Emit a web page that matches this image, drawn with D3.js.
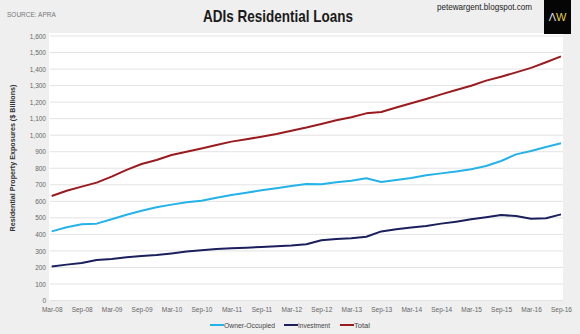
<!DOCTYPE html>
<html><head><meta charset="utf-8">
<script src="https://cdn.jsdelivr.net/npm/d3@7"></script>
<style>
html,body{margin:0;padding:0;background:#efefef;}
svg{display:block;}
text{font-family:"Liberation Sans Narrow","Arial Narrow","Liberation Sans",Arial,sans-serif;}
</style></head>
<body>
<svg id="c" width="580" height="334"></svg>
<script>
const quarters = ["Mar-08","Jun-08","Sep-08","Dec-08","Mar-09","Jun-09","Sep-09","Dec-09","Mar-10","Jun-10","Sep-10","Dec-10","Mar-11","Jun-11","Sep-11","Dec-11","Mar-12","Jun-12","Sep-12","Dec-12","Mar-13","Jun-13","Sep-13","Dec-13","Mar-14","Jun-14","Sep-14","Dec-14","Mar-15","Jun-15","Sep-15","Dec-15","Mar-16","Jun-16","Sep-16"];
const ownerOccupied = [418,443,461,465,491,519,543,564,580,594,604,622,638,652,667,679,693,705,703,715,725,739,717,729,741,757,769,781,794,814,844,884,904,929,951];
const investment = [205,217,227,245,251,261,269,275,285,297,304,312,316,319,324,328,332,340,364,372,376,386,418,431,441,451,465,477,491,503,517,511,495,497,521];
const total = [632,664,689,713,749,790,826,850,880,900,920,941,961,975,991,1007,1027,1046,1068,1090,1108,1132,1140,1167,1193,1219,1247,1273,1299,1330,1354,1380,1407,1441,1477];
const yTicks = [0,100,200,300,400,500,600,700,800,900,1000,1100,1200,1300,1400,1500,1600];
const xTickLabels = quarters.filter((q,i)=>i%2===0);
const seriesNames = ["Owner-Occupied","Investment","Total"];
const seriesColors = ["#25b2e8","#1b1f5c","#9a1b1f"];
const seriesData = [ownerOccupied, investment, total];

const svg = d3.select("#c");
const x = d3.scalePoint().domain(quarters).range([51.7, 561]);
const y = d3.scaleLinear().domain([0,1600]).range([300.5, 36]);

// plot background
svg.append("rect").attr("x",49).attr("y",33).attr("width",514).attr("height",268).attr("fill","#ffffff");

// gridlines
svg.append("g").selectAll("line").data(yTicks).join("line")
  .attr("x1",50).attr("x2",563)
  .attr("y1",d=>y(d)).attr("y2",d=>y(d))
  .attr("stroke","#e3e3e3").attr("stroke-width",1);

// y axis
const yAxis = d3.axisLeft(y).tickValues(yTicks).tickFormat(d3.format(",")).tickSize(0).tickPadding(0);
const gy = svg.append("g").attr("transform","translate(46,0)").call(yAxis);
gy.select(".domain").remove();
gy.selectAll("text").attr("fill","#666").style("font-size","6.5px").style("font-family",null);

// x axis
const xAxis = d3.axisBottom(x).tickValues(xTickLabels).tickSize(0).tickPadding(0);
const gx = svg.append("g").attr("transform","translate(0,307)").call(xAxis);
gx.select(".domain").remove();
gx.selectAll("text").attr("fill","#666").style("font-size","6.5px").style("font-family",null);

// lines
const line = d3.line().x((d,i)=>x(quarters[i])).y(d=>y(d));
svg.append("g").selectAll("path").data(seriesData).join("path")
  .attr("d",d=>line(d)).attr("fill","none")
  .attr("stroke",(d,i)=>seriesColors[i]).attr("stroke-width",2)
  .attr("stroke-linejoin","round");

// title
svg.append("text").attr("x",278).attr("y",22).attr("text-anchor","middle")
  .attr("textLength",150).attr("lengthAdjust","spacingAndGlyphs")
  .style("font-size","17px").style("font-weight","bold").attr("fill","#1a1a1a")
  .text("ADIs Residential Loans");

svg.append("text").attr("x",7).attr("y",17)
  .style("font-size","6.5px").attr("fill","#777").text("SOURCE: APRA");

svg.append("text").attr("x",437).attr("y",10)
  .attr("textLength",95).attr("lengthAdjust","spacingAndGlyphs")
  .style("font-size","9px").attr("fill","#222").text("petewargent.blogspot.com");

// AW logo
svg.append("rect").attr("x",544).attr("y",0).attr("width",27).attr("height",34).attr("fill","#050505");
const aw = svg.append("text").attr("x",557.5).attr("y",21).attr("text-anchor","middle")
  .style("font-size","11px").style("font-family","'Liberation Sans',Arial,sans-serif");
aw.append("tspan").attr("fill","#dddddd").text("Λ");
aw.append("tspan").attr("fill","#e3cf3c").text("W");

// y-axis title
svg.append("text").attr("transform","translate(15,158) rotate(-90)").attr("text-anchor","middle")
  .attr("textLength",147).attr("lengthAdjust","spacingAndGlyphs")
  .style("font-size","8px").style("font-weight","bold").attr("fill","#333")
  .text("Residential Property Exposures ($ Billions)");

// legend
const legendX = [210,284,340];
const legendW = [51,32,16];
const lg = svg.append("g").selectAll("g").data(seriesNames).join("g")
  .attr("transform",(d,i)=>`translate(${legendX[i]},325)`);
lg.append("line").attr("x1",0).attr("x2",14).attr("y1",0).attr("y2",0)
  .attr("stroke",(d,i)=>seriesColors[i]).attr("stroke-width",2);
lg.append("text").attr("x",14).attr("y",2.8).style("font-size","8px").attr("fill","#444")
  .attr("textLength",(d,i)=>legendW[i]).attr("lengthAdjust","spacingAndGlyphs").text(d=>d);
</script>
</body></html>
